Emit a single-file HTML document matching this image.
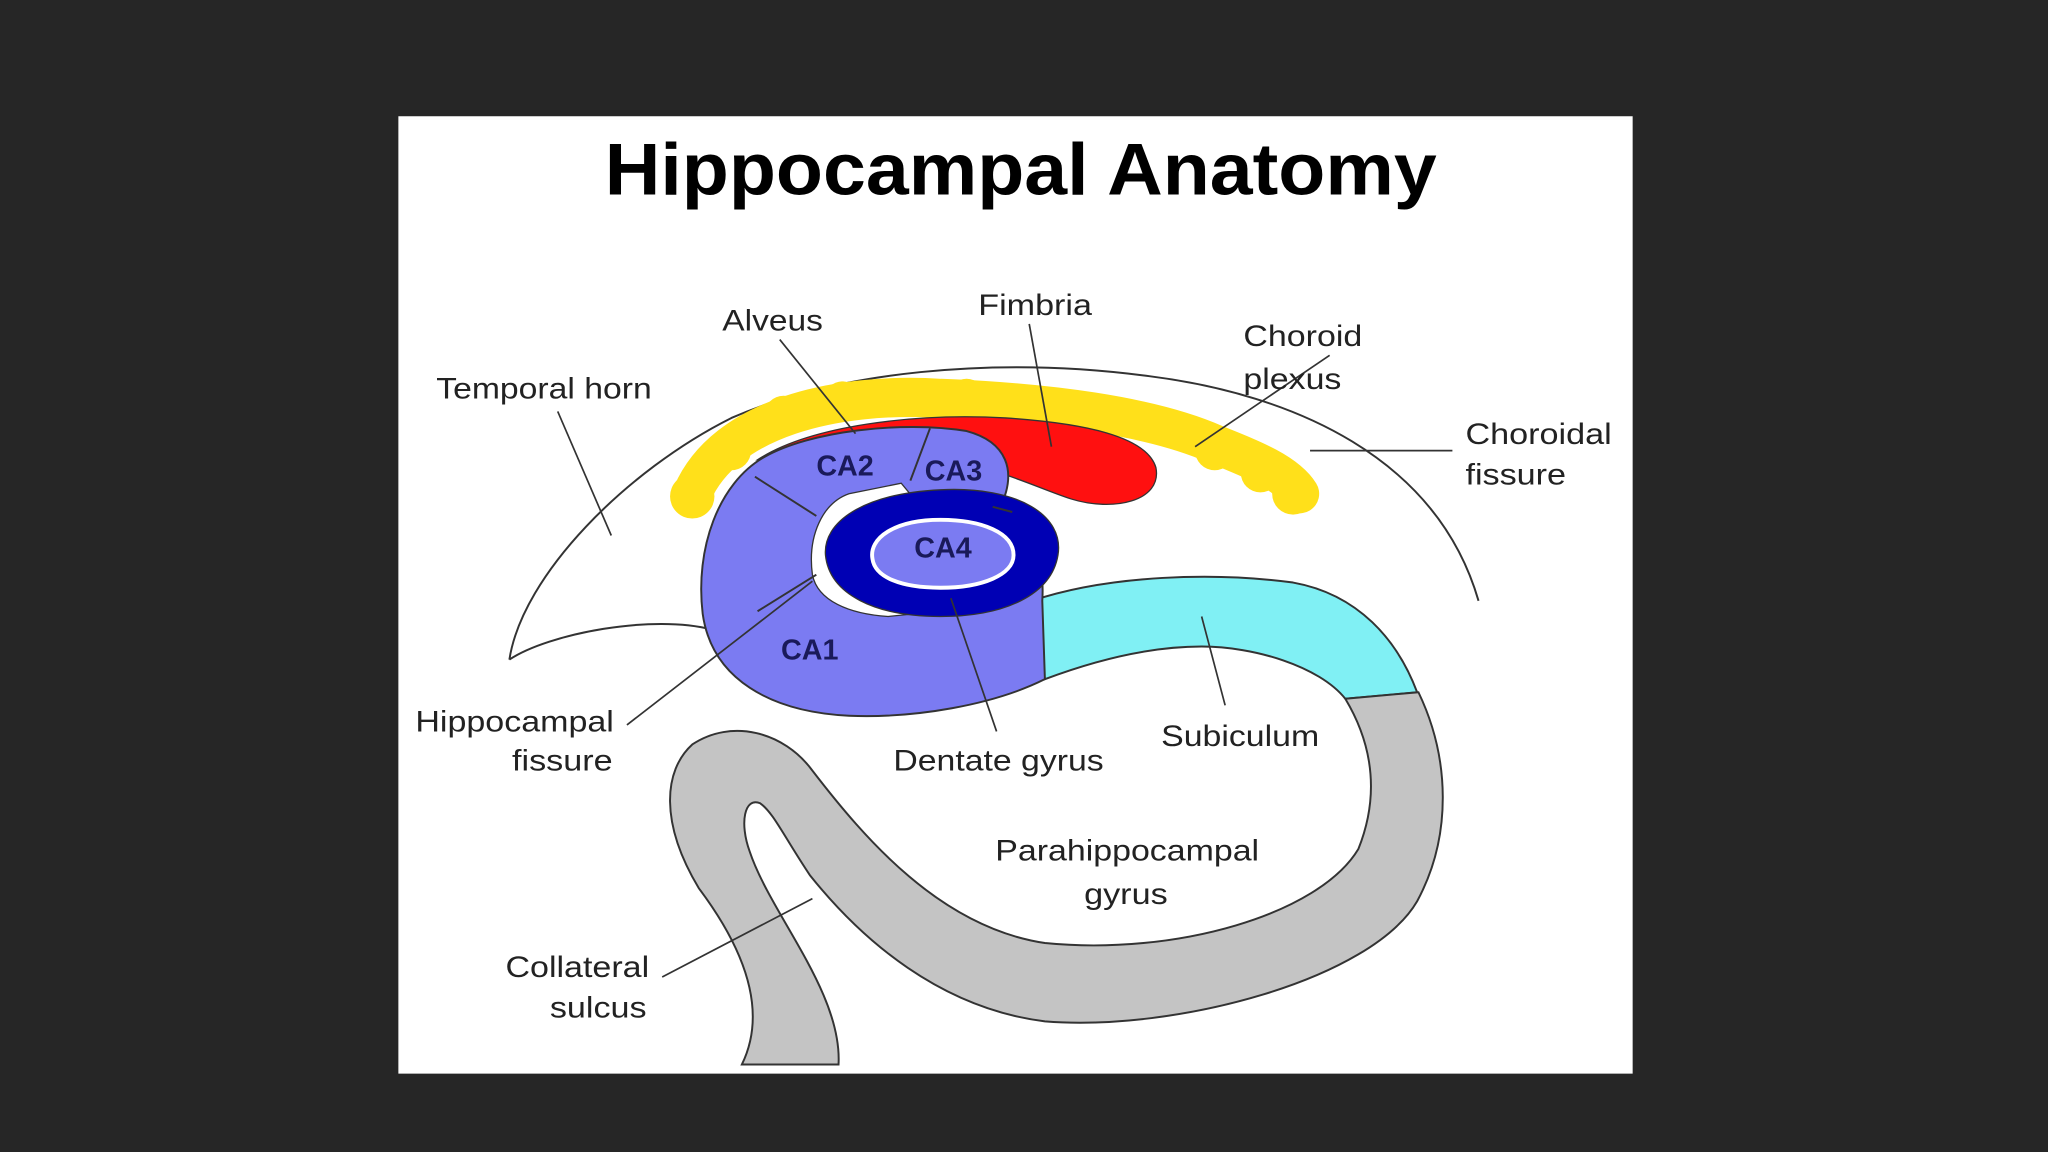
<!DOCTYPE html>
<html><head><meta charset="utf-8"><style>
html,body{margin:0;padding:0;background:#262626;}
svg{display:block}
text{font-family:"Liberation Sans",sans-serif;fill:#222}
</style></head><body>
<svg width="2048" height="1152" viewBox="0 0 1568 882" xmlns="http://www.w3.org/2000/svg">
<rect width="1568" height="882" fill="#262626"/>
<rect x="305" y="89" width="945" height="733" fill="#fff"/>
<text x="463" y="149" textLength="637" lengthAdjust="spacingAndGlyphs" font-size="56" font-weight="bold" style="fill:#000">Hippocampal Anatomy</text>

<path d="M390,505 C400,440 480,360 560,320 C640,285 760,272 880,288 C990,302 1100,350 1132,460" fill="none" stroke="#333" stroke-width="1.5"/>
<path d="M390,505 C420,485 500,470 545,482" fill="none" stroke="#333" stroke-width="1.5"/>

<g fill="#ffe01a">
<path d="M530,378 C555,320 640,300 720,305 C800,308 880,318 930,340 C960,352 985,362 995,378" fill="none" stroke="#ffe01a" stroke-width="30" stroke-linecap="round"/>
<circle cx="530" cy="380" r="17"/><circle cx="560" cy="345" r="15"/><circle cx="600" cy="318" r="15"/>
<circle cx="645" cy="306" r="14"/><circle cx="690" cy="306" r="13"/><circle cx="740" cy="304" r="14"/>
<circle cx="790" cy="310" r="13"/><circle cx="840" cy="316" r="14"/><circle cx="885" cy="326" r="13"/>
<circle cx="930" cy="345" r="15"/><circle cx="965" cy="362" r="15"/><circle cx="990" cy="378" r="16"/>
</g>

<path d="M580,352 C620,326 700,316 770,320 C830,324 878,334 885,358 C890,384 852,392 820,382 C790,372 765,358 720,352 C670,346 620,350 580,352 Z" fill="#ff1010" stroke="#333" stroke-width="1"/>

<path d="M790,460 C850,440 930,438 990,446 C1040,455 1070,490 1085,530 L1030,535 C1010,510 960,495 920,495 C880,495 840,505 800,520 Z" fill="#80f0f4" stroke="#333" stroke-width="1.5"/>

<path d="M585,350 C620,330 690,322 740,330 C770,338 780,360 765,390 C790,400 800,430 798,460 L800,520 C760,540 700,550 650,548 C590,545 545,520 538,470 C532,420 550,370 585,350 Z" fill="#7b7bf2" stroke="#333" stroke-width="1.5"/>
<path d="M650,378 C630,385 618,410 622,440 C626,460 650,470 680,472 L700,470 C660,450 645,420 660,395 C672,385 690,380 700,382 L690,370 Z" fill="#fff" stroke="#333" stroke-width="1"/>
<path d="M720,375 C780,372 815,395 810,425 C805,455 770,472 720,472 C670,472 635,455 632,425 C630,400 660,378 720,375 Z M720,398 C685,398 665,412 668,428 C670,442 690,450 720,450 C752,450 776,440 776,425 C776,408 752,398 720,398 Z" fill="#0000b4" fill-rule="evenodd" stroke="#333" stroke-width="1"/>
<path d="M720,398 C685,398 665,412 668,428 C670,442 690,450 720,450 C752,450 776,440 776,425 C776,408 752,398 720,398 Z" fill="#7b7bf2" stroke="#fff" stroke-width="3"/>
<g stroke="#333" stroke-width="1.5" fill="none">
<path d="M578,365 L625,395"/><path d="M712,328 L697,368"/><path d="M760,388 L775,392"/>
<path d="M580,468 L625,440"/>
</g>

<path d="M1030,535 L1086,530 C1110,580 1112,640 1085,690 C1050,750 900,790 800,782 C720,772 660,720 620,670 C600,640 592,622 582,615 C570,610 566,630 574,652 C590,700 645,760 642,815 L568,815 C590,770 565,720 535,680 C505,630 508,590 530,570 C560,550 600,560 622,590 C662,642 720,710 800,722 C900,732 1010,700 1040,650 C1060,600 1045,560 1030,535 Z" fill="#c4c4c4" stroke="#333" stroke-width="1.5"/>

<g font-weight="bold" font-size="22">
<text x="625" y="364" style="fill:#1a1a5a">CA2</text>
<text x="708" y="368" style="fill:#1a1a5a">CA3</text>
<text x="700" y="427" style="fill:#1a1a5a">CA4</text>
<text x="598" y="505" style="fill:#1a1a5a">CA1</text>
</g>

<g stroke="#333" stroke-width="1.3" fill="none">
<path d="M597,260 L655,332"/>
<path d="M788,248 L805,342"/>
<path d="M1018,272 L915,342"/>
<path d="M1112,345 L1003,345"/>
<path d="M427,315 L468,410"/>
<path d="M480,555 L622,445"/>
<path d="M763,560 L728,458"/>
<path d="M938,540 L920,472"/>
<path d="M507,748 L622,688"/>
</g>

<g font-size="23">
<text x="553" y="253" textLength="77" lengthAdjust="spacingAndGlyphs">Alveus</text>
<text x="749" y="241" textLength="87" lengthAdjust="spacingAndGlyphs">Fimbria</text>
<text x="952" y="265" textLength="91" lengthAdjust="spacingAndGlyphs">Choroid</text>
<text x="952" y="298" textLength="75" lengthAdjust="spacingAndGlyphs">plexus</text>
<text x="1122" y="340" textLength="112" lengthAdjust="spacingAndGlyphs">Choroidal</text>
<text x="1122" y="371" textLength="77" lengthAdjust="spacingAndGlyphs">fissure</text>
<text x="334" y="305" textLength="165" lengthAdjust="spacingAndGlyphs">Temporal horn</text>
<text x="318" y="560" textLength="152" lengthAdjust="spacingAndGlyphs">Hippocampal</text>
<text x="392" y="590" textLength="77" lengthAdjust="spacingAndGlyphs">fissure</text>
<text x="684" y="590" textLength="161" lengthAdjust="spacingAndGlyphs">Dentate gyrus</text>
<text x="889" y="571" textLength="121" lengthAdjust="spacingAndGlyphs">Subiculum</text>
<text x="762" y="659" textLength="202" lengthAdjust="spacingAndGlyphs">Parahippocampal</text>
<text x="830" y="692" textLength="64" lengthAdjust="spacingAndGlyphs">gyrus</text>
<text x="387" y="748" textLength="110" lengthAdjust="spacingAndGlyphs">Collateral</text>
<text x="421" y="779" textLength="74" lengthAdjust="spacingAndGlyphs">sulcus</text>
</g>
</svg>
</body></html>
